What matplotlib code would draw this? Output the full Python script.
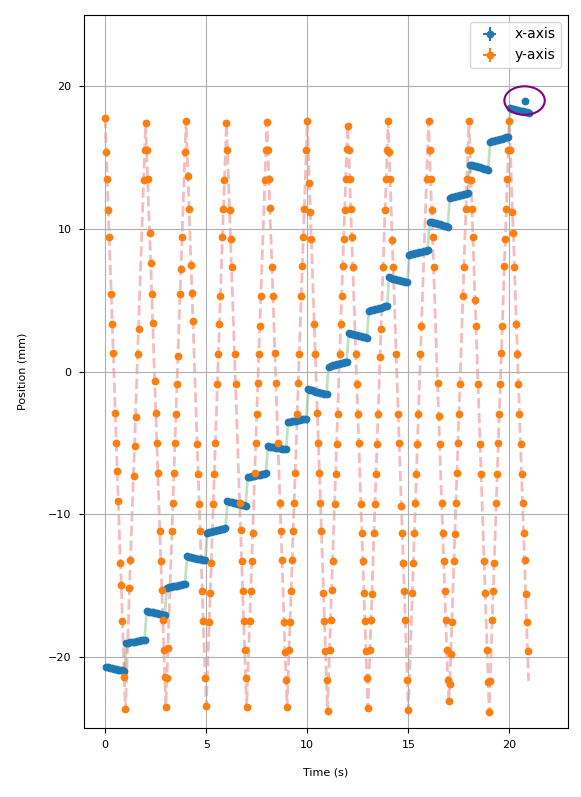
import numpy as np
import matplotlib
matplotlib.use("Agg")
import matplotlib.pyplot as plt
from matplotlib.patches import Circle

# ---------------- data ----------------
sample_interval = 0.05           # s between y samples
# y-axis samples per 1 s sweep (time order, first value = apex at t = sweep index)
y_sweeps = [
    [17.8, 15.4, 13.5, 11.3, 9.4, 7.3, 5.4, 3.3, 1.3, -0.8, -2.9, -5.0, -7.0, -9.1, -11.2, -13.4, -15.0, -17.5, -19.5, -21.4],
    [-23.7, -21.5, -19.5, -17.5, -15.2, -13.2, -11.2, -9.2, -7.3, -5.2, -3.2, -0.9, 1.2, 3.0, 5.3, 7.3, 9.4, 11.3, 13.4, 15.5],
    [17.4, 15.5, 13.5, 11.4, 9.7, 7.6, 5.4, 3.4, 1.3, -0.7, -2.9, -5.0, -7.1, -9.2, -11.2, -13.3, -15.3, -17.4, -19.5, -21.4],
    [-23.5, -21.5, -19.4, -17.5, -15.4, -13.4, -11.2, -9.2, -7.1, -5.0, -3.0, -0.9, 1.1, 3.2, 5.4, 7.2, 9.4, 11.4, 13.5, 15.4],
    [17.6, 15.5, 13.7, 11.4, 9.4, 7.5, 5.5, 3.55, 1.2, -0.9, -3.0, -5.1, -7.2, -9.3, -11.2, -13.3, -15.4, -17.5, -19.6, -21.5],
    [-23.45, -21.5, -19.5, -17.6, -15.5, -13.4, -11.3, -9.3, -7.2, -5.0, -3.0, -0.9, 1.2, 3.3, 5.3, 7.3, 9.4, 11.4, 13.4, 15.5],
    [17.4, 15.5, 13.5, 11.3, 9.3, 7.3, 5.3, 3.2, 1.2, -0.9, -3.0, -5.1, -7.1, -9.2, -11.1, -13.3, -15.4, -17.5, -19.5, -21.5],
    [-23.55, -21.6, -19.6, -17.5, -15.4, -13.3, -11.3, -9.3, -7.1, -5.0, -3.0, -0.8, 1.2, 3.2, 5.3, 7.3, 9.4, 11.4, 13.4, 15.5],
    [17.5, 15.5, 13.5, 11.5, 9.4, 7.3, 5.3, 3.2, 1.3, -0.8, -3.0, -5.0, -7.1, -9.2, -11.2, -13.2, -15.4, -17.6, -19.7, -21.6],
    [-23.55, -21.5, -19.5, -17.6, -15.4, -13.2, -11.2, -9.2, -7.1, -5.1, -3.0, -0.8, 1.2, 3.2, 5.3, 7.4, 9.4, 11.4, 13.5, 15.5],
    [17.55, 15.5, 13.2, 11.2, 9.3, 7.3, 5.3, 3.3, 1.2, -0.9, -2.9, -5.0, -7.1, -9.2, -11.2, -13.3, -15.5, -17.5, -19.6, -21.6],
    [-23.8, -21.6, -19.5, -17.4, -15.3, -13.3, -11.2, -9.3, -7.2, -5.1, -3.0, -0.9, 1.2, 3.3, 5.3, 7.4, 9.3, 11.3, 13.5, 15.6],
    [17.2, 15.5, 13.5, 11.4, 9.4, 7.3, 5.3, 3.2, 1.2, -0.9, -3.0, -5.0, -7.1, -9.3, -11.3, -13.3, -15.5, -17.5, -19.6, -21.5],
    [-23.6, -21.6, -19.5, -17.4, -15.6, -13.3, -11.3, -9.3, -7.2, -5.1, -3.0, -0.9, 1.0, 3.0, 5.3, 7.3, 9.4, 11.3, 13.5, 15.5],
    [17.55, 15.4, 13.5, 11.4, 9.2, 7.3, 5.3, 3.2, 1.2, -0.9, -3.0, -5.0, -7.1, -9.4, -11.3, -13.4, -15.4, -17.4, -19.6, -21.6],
    [-23.75, -21.6, -19.5, -17.5, -15.5, -13.4, -11.3, -9.2, -7.2, -5.1, -3.0, -0.9, 1.2, 3.2, 5.3, 7.3, 9.4, 11.4, 13.5, 15.5],
    [17.55, 15.5, 13.5, 11.3, 9.4, 7.3, 5.3, 3.2, 1.2, -0.8, -3.1, -5.1, -7.1, -9.2, -11.3, -13.3, -15.4, -17.4, -19.5, -21.6],
    [-23.1, -21.9, -19.8, -17.6, -15.4, -13.3, -11.4, -9.2, -7.1, -5.0, -3.0, -0.9, 1.2, 3.2, 5.3, 7.3, 9.4, 11.4, 13.5, 15.5],
    [17.6, 15.5, 13.4, 11.4, 9.4, 7.3, 5.0, 3.2, 1.2, -0.9, -3.0, -5.1, -7.2, -9.2, -11.2, -13.3, -15.5, -17.5, -19.5, -21.8],
    [-23.9, -21.7, -19.6, -17.4, -15.4, -13.4, -11.3, -9.2, -7.2, -5.0, -3.0, -0.9, 1.3, 3.2, 5.3, 7.4, 9.3, 11.4, 13.5, 15.5],
    [17.55, 15.5, 13.5, 11.2, 9.7, 7.3, 5.3, 3.3, 1.2, -0.9, -3.0, -5.1, -7.2, -9.2, -11.3, -13.2, -15.6, -17.6, -19.6, -21.7],
]
# sample indices (within each sweep) with no marker drawn
y_no_marker = [
    [5, 9, 14, 18], [17, 16, 15, 14, 11, 7, 6, 3, 2, 1], [3, 8, 13],
    [18, 17, 13, 5, 4, 3], [1, 4, 8, 9, 10, 15, 18], [19, 15, 10, 6, 2, 1],
    [2, 6, 7, 10, 11, 12], [17, 16, 15, 7, 2, 1], [4, 7, 10, 12, 16],
    [18, 13, 9, 1], [1, 5, 6, 9, 15], [11, 6, 1], [6, 7, 12],
    [16, 14, 11, 5, 1], [3, 6, 7, 9, 12, 18], [19, 17, 16, 15, 14, 11, 3, 2, 1],
    [6, 7, 8, 12], [16, 13, 12, 4], [5, 8, 10, 13, 14, 17], [14, 6, 2], [2, 6, 19],
]

# x-axis samples: one row per sweep, sample offsets within the sweep
x_offsets = [0.05, 0.15, 0.25, 0.35, 0.45, 0.55, 0.65, 0.75, 0.85, 0.95]
x_sweeps = [
    [-20.72, -20.75, -20.78, -20.81, -20.84, -20.87, -20.90, -20.93, -20.96, -21.00],
    [-19.05, -19.02, -19.00, -18.97, -18.94, -18.91, -18.88, -18.86, -18.83, -18.80],
    [-16.80, -16.84, -16.87, -16.90, -16.94, -16.97, -17.00, -17.03, -17.07, -17.10],
    [-15.15, -15.12, -15.09, -15.06, -15.04, -15.01, -14.98, -14.95, -14.93, -14.90],
    [-12.95, -12.98, -13.02, -13.05, -13.08, -13.12, -13.15, -13.18, -13.22, -13.25],
    [-11.30, -11.27, -11.23, -11.20, -11.17, -11.13, -11.10, -11.07, -11.03, -11.00],
    [-9.10, -9.13, -9.17, -9.20, -9.23, -9.27, -9.30, -9.33, -9.37, -9.40],
    [-7.40, -7.37, -7.34, -7.32, -7.29, -7.26, -7.23, -7.21, -7.18, -7.15],
    [-5.25, -5.27, -5.29, -5.32, -5.34, -5.36, -5.38, -5.41, -5.43, -5.45],
    [-3.55, -3.52, -3.49, -3.47, -3.44, -3.41, -3.38, -3.36, -3.33, -3.30],
    [-1.25, -1.29, -1.33, -1.37, -1.41, -1.44, -1.48, -1.52, -1.56, -1.60],
    [0.35, 0.39, 0.43, 0.47, 0.51, 0.54, 0.58, 0.62, 0.66, 0.70],
    [2.70, 2.66, 2.62, 2.58, 2.54, 2.51, 2.47, 2.43, 2.39, 2.35],
    [4.25, 4.29, 4.33, 4.37, 4.41, 4.44, 4.48, 4.52, 4.56, 4.60],
    [6.60, 6.56, 6.52, 6.48, 6.44, 6.41, 6.37, 6.33, 6.29, 6.25],
    [8.20, 8.23, 8.27, 8.30, 8.33, 8.37, 8.40, 8.43, 8.47, 8.50],
    [10.50, 10.46, 10.42, 10.38, 10.34, 10.31, 10.27, 10.23, 10.19, 10.15],
    [12.20, 12.23, 12.27, 12.30, 12.33, 12.37, 12.40, 12.43, 12.47, 12.50],
    [14.50, 14.46, 14.42, 14.38, 14.34, 14.31, 14.27, 14.23, 14.19, 14.15],
    [16.10, 16.14, 16.18, 16.22, 16.26, 16.29, 16.33, 16.37, 16.41, 16.45],
    [18.45, 18.42, 18.38, 18.35, 18.32, 18.28, 18.25, 18.22, 18.18, 18.15],
]
outlier_t = [20.75]
outlier_x = [18.95]
outlier_circle_center = (20.75, 19.0)
outlier_circle_radius = 1.0

x_err, y_err = 0.2, 0.2
t_err = 0.01

# ---------------- assemble ----------------
t_y, y_all, show = [], [], []
for s, vals in enumerate(y_sweeps):
    for j, v in enumerate(vals):
        t_y.append(s + j * sample_interval)
        y_all.append(v)
        show.append(j not in y_no_marker[s])
t_y = np.array(t_y); y_all = np.array(y_all); show = np.array(show)

t_x, x_all = [], []
for s, vals in enumerate(x_sweeps):
    for off, v in zip(x_offsets, vals):
        t_x.append(s + off)
        x_all.append(v)
t_x = np.array(t_x); x_all = np.array(x_all)

# ---------------- plot ----------------
fig = plt.figure(figsize=(5.81, 7.97), dpi=100)
ax = fig.add_axes([84/581, 69/797, 484/581, 713/797])

ax.plot(t_x, x_all, '-', color='C2', alpha=0.3, lw=2, zorder=1)
ax.plot(t_y, y_all, '--', color='C3', alpha=0.3, lw=2, zorder=1)

tx_m = np.concatenate([t_x, outlier_t])
x_m = np.concatenate([x_all, outlier_x])
ax.errorbar(tx_m, x_m, xerr=t_err, yerr=x_err, fmt='o', ms=4.6, color='C0',
            label='x-axis', zorder=2)
ax.errorbar(t_y[show], y_all[show], xerr=t_err, yerr=y_err, fmt='o', ms=4.6,
            color='C1', label='y-axis', zorder=3)

ax.add_patch(Circle(outlier_circle_center, outlier_circle_radius, fill=False,
                    edgecolor='purple', lw=1.5, zorder=4))

ax.set_xlim(-1.05, 22.9)
ax.set_ylim(-25, 25)
ax.set_xticks([0, 5, 10, 15, 20])
ax.set_yticks([-20, -10, 0, 10, 20])
ax.tick_params(labelsize=8, pad=5.5)
ax.set_xlabel('Time (s)', fontsize=8, labelpad=12)
ax.set_ylabel('Position (mm)', fontsize=8, labelpad=15)
ax.grid(True)
ax.legend(loc='upper right', fontsize=10)

fig.savefig('out.png', dpi=100)
